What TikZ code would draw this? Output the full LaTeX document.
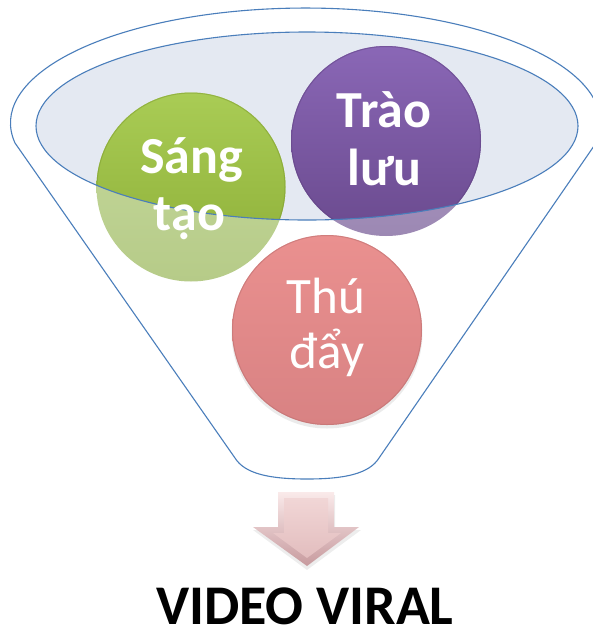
\documentclass[tikz,border=0pt]{standalone}
\usepackage{fontspec}
\setmainfont{Carlito}
\definecolor{lineblue}{HTML}{4A7EBB}
\definecolor{ellfill}{HTML}{E4E9F2}
\definecolor{gtop}{HTML}{A9CC55}
\definecolor{gbot}{HTML}{8CAD36}
\definecolor{gftop}{HTML}{C6DA9E}
\definecolor{gfbot}{HTML}{B6CB88}
\definecolor{grim}{HTML}{7E9C30}
\definecolor{ptop}{HTML}{8A67B6}
\definecolor{pbot}{HTML}{6A4A8E}
\definecolor{pftop}{HTML}{B3A1CB}
\definecolor{pfbot}{HTML}{9C88B3}
\definecolor{prim}{HTML}{5F4282}
\definecolor{rtop}{HTML}{EA908F}
\definecolor{rbot}{HTML}{D88283}
\definecolor{rrim}{HTML}{BF7272}
\definecolor{atop}{HTML}{FAEAEA}
\definecolor{abot}{HTML}{C79A9E}
\definecolor{aitop}{HTML}{F1D6D6}
\definecolor{aibot}{HTML}{E2BDBE}
\tikzset{
  outline/.style={draw=lineblue, line width=1.1pt},
  bold50/.style={text=white, font=\fontsize{52}{62}\selectfont\bfseries, anchor=base, inner sep=0pt},
  reg50/.style={text=white, font=\fontsize{51}{61}\selectfont, anchor=base, inner sep=0pt},
  title/.style={text=black, font=\fontsize{56}{66}\selectfont\bfseries, anchor=base, inner sep=0pt}
}
\begin{document}
\begin{tikzpicture}[x=1pt,y=-1pt]
\useasboundingbox (0,0) rectangle (593,630);
\clip (0,0) rectangle (593,630);
\fill[white] (0,0) rectangle (593,630);
% funnel outline
\draw[outline, fill=white] (15,143) arc[start angle=170, end angle=370, x radius=295, y radius=115]
  -- (379,458) .. controls (369,474) and (344,479) .. (307,479)
  .. controls (270,479) and (245,474) .. (235,458) -- cycle;
% inner ellipse fill
\fill[ellfill] (307,126) ellipse [x radius=271, y radius=94];
% faded circles
\shade[top color=gftop, bottom color=gfbot] (191,187) circle[radius=94.5];
\shade[top color=pftop, bottom color=pfbot] (386,141) circle[radius=95];
% vivid parts inside ellipse
\begin{scope}
\clip (307,126) ellipse [x radius=271, y radius=94];
\shade[top color=gtop, bottom color=gbot] (191,187) circle[radius=94.5];
\draw[grim, line width=1pt, opacity=0.5] (191,187) circle[radius=94];
\shade[top color=ptop, bottom color=pbot] (386,141) circle[radius=95];
\draw[prim, line width=1pt, opacity=0.5] (386,141) circle[radius=94.5];
\end{scope}
% pink circle
\fill[black, opacity=0.08] (327,333) circle[radius=95.5];
\shade[top color=rtop, bottom color=rbot] (327,330) circle[radius=95];
\draw[rrim, line width=1pt, opacity=0.6] (327,330) circle[radius=94.5];
% inner ellipse outline
\draw[outline] (307,126) ellipse [x radius=271, y radius=94];
% arrow
\fill[black, opacity=0.07] (279,495) -- (335,495) -- (335,530) -- (361,530) -- (307,570) -- (253,530) -- (279,530) -- cycle;
\shade[top color=atop, bottom color=abot] (278,492) -- (334,492) -- (334,527) -- (359,527) -- (307,566) -- (253,527) -- (278,527) -- cycle;
\shade[top color=aitop, bottom color=aibot] (284,498) -- (328,498) -- (328,533) -- (341,533) -- (307,558) -- (273,533) -- (284,533) -- cycle;
% texts
\node[bold50] (sang) at (191.5,173) {Sáng};
\node[bold50] (tao) at (189.5,230) {tạo};
\node[bold50] (trao) at (384,127) {Trào};
\node[bold50] (luu) at (384.5,185) {lưu};
\node[reg50] (thu) at (326,313) {Thú};
\node[reg50] (day) at (327,368) {đẩy};
\node[title] (viral) at (305,624) {VIDEO VIRAL};
\end{tikzpicture}
\end{document}
